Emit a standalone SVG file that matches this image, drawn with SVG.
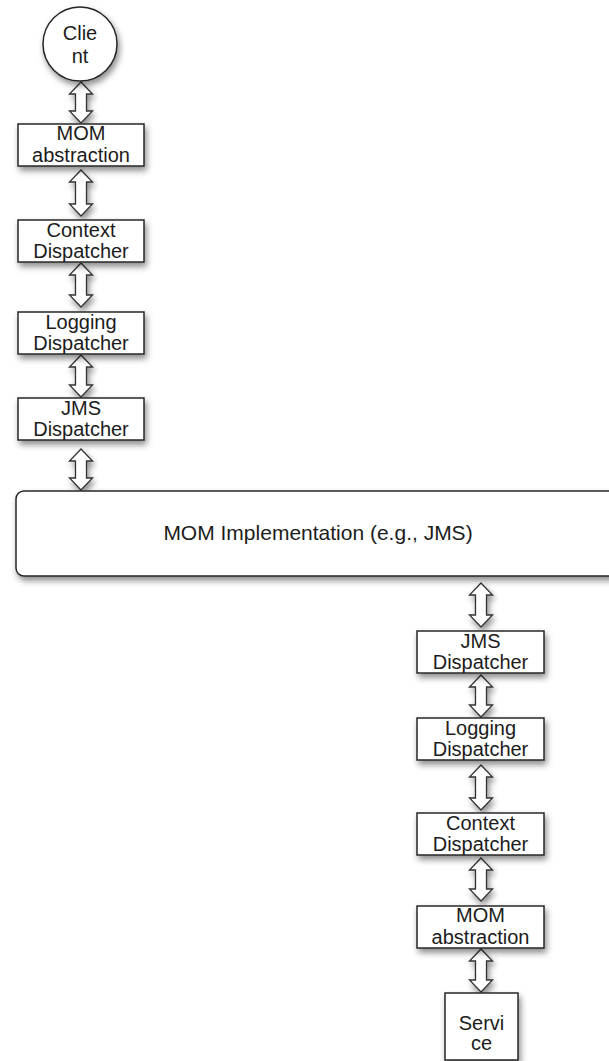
<svg xmlns="http://www.w3.org/2000/svg" width="609" height="1061" viewBox="0 0 609 1061">
  <defs>
    <filter id="shadow" x="-20%" y="-20%" width="140%" height="160%">
      <feDropShadow dx="2" dy="4" stdDeviation="3" flood-color="#000" flood-opacity="0.45"/>
    </filter>
    <style>
      .box { fill: #fff; stroke: #262626; stroke-width: 1.5; filter: url(#shadow); }
      .arrow { fill: #fff; stroke: #333; stroke-width: 1.3; stroke-linejoin: miter; filter: url(#shadow); }
      .lbl { font-family: "Liberation Sans", Arial, Helvetica, sans-serif; font-size: 20px; fill: #1c1c1c; text-anchor: middle; }
      .big { font-size: 21px; }
    </style>
  </defs>
  <rect width="609" height="1061" fill="#fff"/>

  <!-- double-headed block arrows between the layers -->
  <g id="connectors">
    <path class="arrow" d="M81,82 L92.5,94 L86.5,94 L86.5,111 L92.5,111 L81,123 L69.5,111 L75.5,111 L75.5,94 L69.5,94 Z"/>
    <path class="arrow" d="M81,170 L92.5,182 L86.5,182 L86.5,204 L92.5,204 L81,216 L69.5,204 L75.5,204 L75.5,182 L69.5,182 Z"/>
    <path class="arrow" d="M81,263 L92.5,275 L86.5,275 L86.5,295 L92.5,295 L81,307 L69.5,295 L75.5,295 L75.5,275 L69.5,275 Z"/>
    <path class="arrow" d="M81,355 L92.5,367 L86.5,367 L86.5,385 L92.5,385 L81,397 L69.5,385 L75.5,385 L75.5,367 L69.5,367 Z"/>
    <path class="arrow" d="M81,449 L92.5,461 L86.5,461 L86.5,478 L92.5,478 L81,490 L69.5,478 L75.5,478 L75.5,461 L69.5,461 Z"/>

    <path class="arrow" d="M481,583 L492.5,595 L486.5,595 L486.5,615 L492.5,615 L481,627 L469.5,615 L475.5,615 L475.5,595 L469.5,595 Z"/>
    <path class="arrow" d="M481,675 L492.5,687 L486.5,687 L486.5,705 L492.5,705 L481,717 L469.5,705 L475.5,705 L475.5,687 L469.5,687 Z"/>
    <path class="arrow" d="M481,765 L492.5,777 L486.5,777 L486.5,798 L492.5,798 L481,810 L469.5,798 L475.5,798 L475.5,777 L469.5,777 Z"/>
    <path class="arrow" d="M481,858 L492.5,870 L486.5,870 L486.5,889 L492.5,889 L481,901 L469.5,889 L475.5,889 L475.5,870 L469.5,870 Z"/>
    <path class="arrow" d="M481,949 L492.5,961 L486.5,961 L486.5,980 L492.5,980 L481,992 L469.5,980 L475.5,980 L475.5,961 L469.5,961 Z"/>
  </g>

  <!-- client side stack -->
  <g id="client">
    <circle class="box" cx="80" cy="44" r="37"/>
    <text class="lbl" x="80" y="40">Clie</text>
    <text class="lbl" x="80" y="63">nt</text>
  </g>
  <g id="client-mom-abstraction">
    <rect class="box" x="18" y="124" width="126" height="42"/>
    <text class="lbl" x="81" y="140">MOM</text>
    <text class="lbl" x="81" y="162">abstraction</text>
  </g>
  <g id="client-context-dispatcher">
    <rect class="box" x="18" y="220" width="126" height="42"/>
    <text class="lbl" x="81" y="237">Context</text>
    <text class="lbl" x="81" y="258">Dispatcher</text>
  </g>
  <g id="client-logging-dispatcher">
    <rect class="box" x="18" y="312" width="126" height="42"/>
    <text class="lbl" x="81" y="329">Logging</text>
    <text class="lbl" x="81" y="350">Dispatcher</text>
  </g>
  <g id="client-jms-dispatcher">
    <rect class="box" x="18" y="398" width="126" height="42"/>
    <text class="lbl" x="81" y="415">JMS</text>
    <text class="lbl" x="81" y="436">Dispatcher</text>
  </g>

  <!-- messaging middleware -->
  <g id="mom-implementation">
    <rect class="box" x="16" y="491" width="630" height="85" rx="8" ry="8"/>
    <text class="lbl big" x="318" y="540">MOM Implementation (e.g., JMS)</text>
  </g>

  <!-- service side stack -->
  <g id="service-jms-dispatcher">
    <rect class="box" x="417" y="631" width="127" height="42"/>
    <text class="lbl" x="480.5" y="648">JMS</text>
    <text class="lbl" x="480.5" y="669">Dispatcher</text>
  </g>
  <g id="service-logging-dispatcher">
    <rect class="box" x="417" y="718" width="127" height="42"/>
    <text class="lbl" x="480.5" y="735">Logging</text>
    <text class="lbl" x="480.5" y="756">Dispatcher</text>
  </g>
  <g id="service-context-dispatcher">
    <rect class="box" x="417" y="813" width="127" height="42"/>
    <text class="lbl" x="480.5" y="830">Context</text>
    <text class="lbl" x="480.5" y="851">Dispatcher</text>
  </g>
  <g id="service-mom-abstraction">
    <rect class="box" x="417" y="906" width="127" height="42"/>
    <text class="lbl" x="480.5" y="922">MOM</text>
    <text class="lbl" x="480.5" y="944">abstraction</text>
  </g>
  <g id="service">
    <rect class="box" x="445" y="993" width="73" height="67"/>
    <text class="lbl" x="481.5" y="1030">Servi</text>
    <text class="lbl" x="481.5" y="1050">ce</text>
  </g>
</svg>
